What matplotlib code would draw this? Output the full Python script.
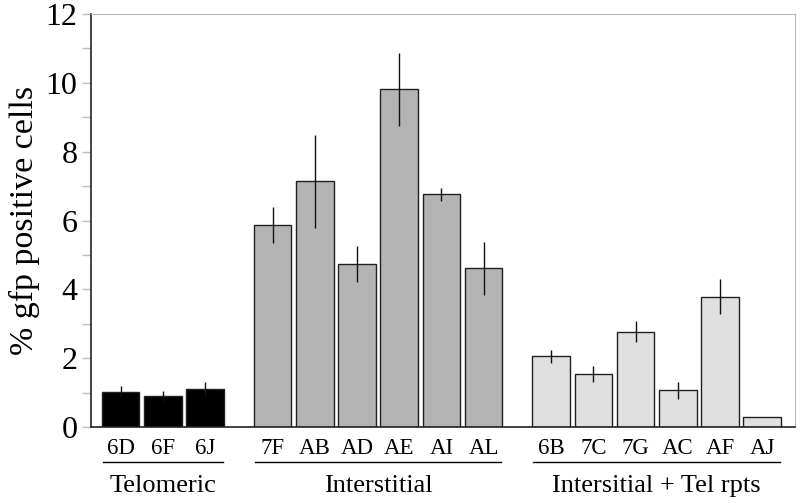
import numpy as np
import matplotlib.pyplot as plt
from matplotlib.ticker import MultipleLocator

plt.rcParams['font.family'] = ['Liberation Serif', 'DejaVu Serif']

# data
groups = ['Telomeric', 'Interstitial', 'Intersitial + Tel rpts']
labels_tel = ['6D', '6F', '6J']
vals_tel = [1.03, 0.89, 1.10]
err_tel = [0.17, 0.15, 0.22]
labels_int = ['7F', 'AB', 'AD', 'AE', 'AI', 'AL']
vals_int = [5.87, 7.14, 4.73, 9.81, 6.76, 4.61]
err_int = [0.52, 1.35, 0.52, 1.07, 0.20, 0.78]
labels_itr = ['6B', '7C', '7G', 'AC', 'AF', 'AJ']
vals_itr = [2.05, 1.55, 2.77, 1.07, 3.79, 0.28]
err_itr = [0.18, 0.23, 0.31, 0.25, 0.52, 0.0]

colours = ['#000000', '#b4b4b4', '#e0e0e0']
gap = 1.6

fig = plt.figure(figsize=(8, 5.03), dpi=100)
ax = fig.add_axes([0.1134, 0.1511, 0.8806, 0.8209])

alllabels = []
allpos = []
start = 0.0
for g, (labs, vals, errs) in enumerate([(labels_tel, vals_tel, err_tel),
                                         (labels_int, vals_int, err_int),
                                         (labels_itr, vals_itr, err_itr)]):
    pos = start + np.arange(len(labs))
    ax.bar(pos, vals, width=0.89, color=colours[g], edgecolor='#202020', linewidth=1.0, zorder=2)
    e = np.array(errs)
    m = e > 0
    ax.errorbar(pos[m], np.array(vals)[m], yerr=e[m], fmt='none', ecolor='#111111',
                elinewidth=1.0, capsize=0, zorder=3)
    # group underline + label
    ax.plot([pos[0] - 0.42, pos[-1] + 0.42], [-0.085, -0.085], color='black', lw=1.0,
            transform=ax.get_xaxis_transform(), clip_on=False)
    ax.text((pos[0] + pos[-1]) / 2, -0.142, groups[g], transform=ax.get_xaxis_transform(),
            ha='center', va='center', fontsize=19)
    alllabels += labs
    allpos += list(pos)
    start = pos[-1] + gap

ax.set_xticks(allpos)
ax.set_xticklabels(alllabels, fontsize=16.5)
ax.tick_params(axis='x', length=0, pad=8)
ax.set_xlim(-0.706, 15.98)

ax.set_ylim(0, 12)
ax.yaxis.set_major_locator(MultipleLocator(2))
ax.yaxis.set_minor_locator(MultipleLocator(1))
ax.tick_params(axis='y', which='both', direction='out', length=6.5, color='#bbbbbb', width=1.0)
ax.tick_params(axis='y', labelsize=23, pad=3)
ax.set_ylabel('% gfp positive cells', fontsize=24.5, labelpad=4)

for s in ['top', 'right']:
    ax.spines[s].set_color('#bbbbbb')
for s in ['left', 'bottom']:
    ax.spines[s].set_color('#222222')
    ax.spines[s].set_linewidth(1.2)

fig.savefig('out.png', dpi=100)
